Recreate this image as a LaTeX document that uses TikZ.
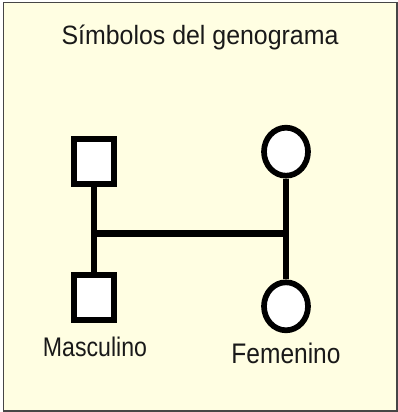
\documentclass[tikz,border=0pt]{standalone}
\usepackage{fontspec}
\setmainfont{Liberation Sans}
\usetikzlibrary{shapes.geometric}

\definecolor{fondo}{RGB}{255,254,226}
\definecolor{marco}{RGB}{70,70,70}

\tikzset{
	hombre/.style={rectangle, draw, fill=white, line width=6pt, inner sep=0pt, minimum width=40pt, minimum height=45pt},
	mujer/.style={ellipse, draw, fill=white, line width=5.7pt, inner sep=0pt, minimum width=44pt, minimum height=48pt},
	enlace/.style={line width=6pt},
	etiqueta/.style={anchor=base, inner sep=0pt, text=black!90}
}

\begin{document}
\begin{tikzpicture}[x=1pt, y=-1pt]
			% Marco
			\useasboundingbox (0,0) rectangle (398,412);
			\fill[white] (0,0) rectangle (398,412);
			\draw[fill=fondo, draw=marco, line width=1.3pt] (3.5,2.5) rectangle (397,411);
			% Titulo
			\node[etiqueta, font=\fontsize{26.5}{30}\selectfont] (titulo) at (200,45) {\scalebox{0.94}[1]{Símbolos del genograma}};
			% Nodos
			\node[hombre] (masc1) at (94,161.7) {};
			\node[hombre] (masc2) at (94,297) {};
			\node[mujer] (fem1) at (286,151.7) {};
			\node[mujer] (fem2) at (286,306.3) {};
			\coordinate (union) at (190,233.5);
			\draw[enlace] (masc1) -- (masc2);
			\draw[enlace] (fem1) -- (fem2);
			\draw[enlace, line width=7pt] (masc1 |- union) -- (fem1 |- union);
			% Etiquetas
			\node[etiqueta] (lmasc) at (95,356.7) {\resizebox{104pt}{19.5pt}{Masculino}};
			\node[etiqueta] (lfem) at (286,363.3) {\resizebox{109pt}{20.5pt}{Femenino}};
		\end{tikzpicture}
\end{document}
